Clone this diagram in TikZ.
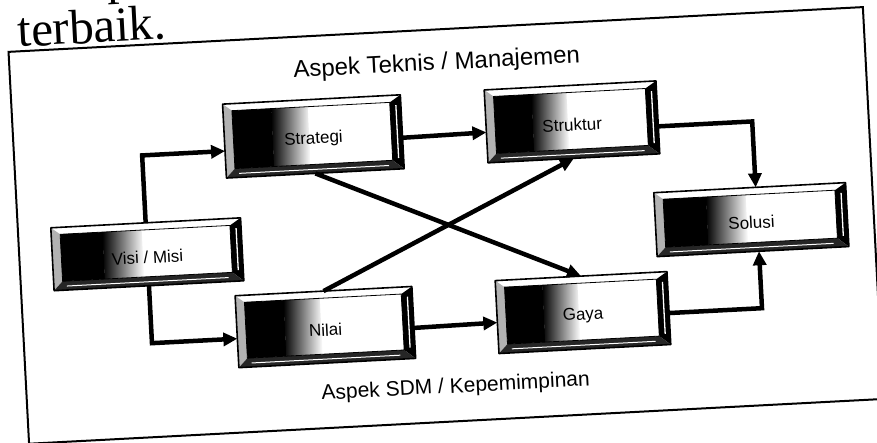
\documentclass[tikz,border=0pt]{standalone}
\usepackage{fontspec}
\setmainfont{Liberation Serif}
\setsansfont{Liberation Sans}
\usetikzlibrary{arrows.meta,calc}
\tikzset{
  conn/.style={line width=4.5pt,-{Triangle[length=14pt,width=13pt]}},
  frameline/.style={line width=2pt},
  boxlbl/.style={font=\sffamily\fontsize{17}{20}\selectfont,inner sep=0pt},
  boxgeom/.style={draw=none,inner sep=0pt,outer sep=0pt,rectangle},
  aspek/.style={font=\sffamily\fontsize{#1}{#1}\selectfont,inner sep=0pt},
  booktext/.style={font=\fontsize{49}{49}\selectfont,inner sep=0pt,anchor=base west},
}
\newcommand\bevbox[6]{%
  \begin{scope}[shift={(#2,#3)}]
    \pgfmathsetmacro\bha{#4/2}
    \pgfmathsetmacro\bhb{#5/2}
    \pgfmathsetmacro\bxa{-\bha+9}
    \pgfmathsetmacro\bxd{\bha-11}
    \pgfmathsetmacro\bfw{\bxd-\bxa}
    \pgfmathsetmacro\bxb{\bxa+0.25*\bfw}
    \pgfmathsetmacro\bxc{\bxa+0.48*\bfw}
    \pgfmathsetmacro\byt{-\bhb+7}
    \pgfmathsetmacro\byb{\bhb-9}
    \fill[white] (-\bha,-\bhb) rectangle (\bha,\bhb);
    \fill[black!30] (-\bha,-\bhb) -- (\bxa,\byt) -- (\bxa,\byb) -- (-\bha,\bhb) -- cycle;
    \fill[black] (\bha,-\bhb) -- (\bha,\bhb) -- (\bxd,\byb) -- (\bxd,\byt) -- cycle;
    \fill[black!85] (-\bha,\bhb) -- (\bxa,\byb) -- (\bxd,\byb) -- (\bha,\bhb) -- cycle;
    \draw[white,line width=1.3pt] (\bha-5,\byt+3) -- (\bha-5,\byb-2);
    \draw[white,line width=1pt] (\bxa+4,\bhb-4) -- (\bxd-4,\bhb-4);
    \fill[black] (\bxa,\byt) rectangle (\bxb,\byb);
    \shade[left color=black,right color=white] (\bxb-0.3,\byt) rectangle (\bxc,\byb);
    \draw[line width=0.8pt] (\bxa,\byt) rectangle (\bxd,\byb);
    \draw[line width=1.6pt,line join=round] (-\bha,-\bhb) rectangle (\bha,\bhb);
  \end{scope}
  \node[boxgeom,minimum width=#4pt,minimum height=#5pt] (#1) at (#2,#3) {};
  \node[boxlbl] (#1-label) at (#2,#3+3) {#6};
}
\begin{document}
\begin{tikzpicture}[x=1pt,y=-1pt]
\fill[white] (0,0) rectangle (877,443);
\useasboundingbox (0,0) rectangle (877,443);
\begin{scope}[rotate around={3:(438.5,221.5)},transform shape]
  % book text above the figure
  \node[booktext] (setiap) at (30,-22) {setiap};
  \node[booktext] (terbaik) at (28,25) {terbaik.};
  % frame
  \draw[frameline] (18,29.6) rectangle (873.5,422);
  % headings
  \node[aspek=24] (teknis) at (445,64) {Aspek Teknis / Manajemen};
  \node[aspek=21] (sdm) at (447,388) {Aspek SDM / Kepemimpinan};
  % boxes
  \bevbox{visi}{146}{239}{190}{63}{Visi / Misi}
  \bevbox{strat}{318}{130}{178}{74}{Strategi}
  \bevbox{strukt}{577}{129}{172}{73}{Struktur}
  \bevbox{nilai}{320}{321}{177}{72}{Nilai}
  \bevbox{gaya}{578}{320}{172}{73}{Gaya}
  \bevbox{solusi}{751}{236}{192}{64}{Solusi}
  % connectors
  \draw[conn] (visi.north) |- ($(strat.west)+(0,10)$);
  \draw[conn] (visi.south) |- ($(nilai.west)+(0,7)$);
  \draw[conn] ($(strat.east)+(0,6)$) -- ($(strukt.west)+(0,6)$);
  \draw[conn] ($(nilai.east)+(0,5.5)$) -- ($(gaya.west)+(0,5.5)$);
  \draw[conn] ($(strukt.east)+(0,9)$) -| ($(solusi.north)+(6,0)$);
  \draw[conn] ($(gaya.east)+(0,5)$) -| ($(solusi.south)+(6,0)$);
  \draw[conn] (strat.south) -- (gaya.north);
  \draw[conn] (nilai.north) -- (strukt.south);
\end{scope}
\end{tikzpicture}
\end{document}
